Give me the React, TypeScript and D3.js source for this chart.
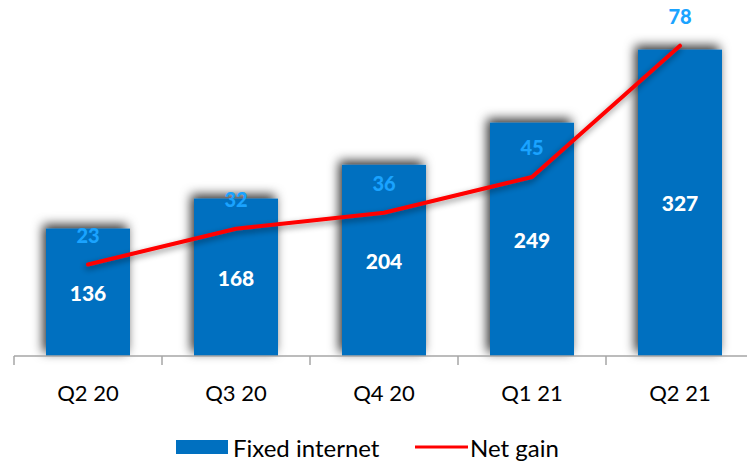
import React from "react";
import * as d3 from "d3";

const categories = ["Q2 20", "Q3 20", "Q4 20", "Q1 21", "Q2 21"];
const fixedInternet = [136, 168, 204, 249, 327];
const netGain = [23, 32, 36, 45, 78];

const W = 747;
const H = 462;
const baseY = 356;
const left = 14;
const right = 754;

export default function App() {
  const bandX = d3.scaleBand<string>().domain(categories).range([left, right]);
  const step = bandX.step();
  const yBar = d3.scaleLinear().domain([0, 380]).range([baseY, 0]);
  const yLine = d3.scaleLinear().domain([0, 89.5]).range([baseY, 0]);
  const bw = 84;
  const cx = (c: string) => (bandX(c) as number) + step / 2;
  const lineGen = d3
    .line<number>()
    .x((_, i) => cx(categories[i]))
    .y((d) => yLine(d));
  const font = "Lato, 'Open Sans', sans-serif";
  return (
    <svg width={W} height={H} style={{ position: "absolute", left: 0, top: 0 }}>
      <defs>
        <filter id="sh" x="-40%" y="-40%" width="180%" height="180%">
          <feDropShadow dx={-3} dy={-4} stdDeviation={5.5} floodColor="#000" floodOpacity={0.8} />
        </filter>
        <filter id="lsh" x="-10%" y="-30%" width="120%" height="160%">
          <feDropShadow dx={-1} dy={3} stdDeviation={3} floodColor="#000" floodOpacity={0.45} />
        </filter>
      </defs>
      {categories.map((c, i) => (
        <rect
          key={c}
          x={cx(c) - bw / 2}
          y={yBar(fixedInternet[i])}
          width={bw}
          height={baseY - yBar(fixedInternet[i])}
          fill="#0070C0"
          filter="url(#sh)"
        />
      ))}
      <line x1={left} x2={right} y1={baseY} y2={baseY} stroke="#A6A6A6" strokeWidth={1.5} />
      {d3.range(categories.length + 1).map((i) => (
        <line key={i} x1={left + i * step} x2={left + i * step} y1={baseY} y2={baseY + 9} stroke="#A6A6A6" strokeWidth={1.5} />
      ))}
      {categories.map((c) => (
        <text key={c} x={cx(c)} y={392} textAnchor="middle" dominantBaseline="central" fontFamily={font} fontSize={22} fill="#000">
          {c}
        </text>
      ))}
      {categories.map((c, i) => (
        <text
          key={c}
          x={cx(c)}
          y={(yBar(fixedInternet[i]) + baseY) / 2}
          textAnchor="middle"
          dominantBaseline="central"
          fontFamily={font}
          fontWeight={900}
          fontSize={21}
          fill="#fff"
        >
          {fixedInternet[i]}
        </text>
      ))}
      <path
        d={lineGen(netGain) || ""}
        fill="none"
        stroke="#FF0000"
        strokeWidth={4}
        strokeLinejoin="round"
        strokeLinecap="round"
        filter="url(#lsh)"
      />
      {categories.map((c, i) => (
        <text
          key={c}
          x={cx(c)}
          y={yLine(netGain[i]) - 30}
          textAnchor="middle"
          dominantBaseline="central"
          fontFamily={font}
          fontWeight={900}
          fontSize={20}
          fill="#1AA3FF"
        >
          {netGain[i]}
        </text>
      ))}
      <rect x={176} y={440} width={52} height={14} fill="#0070C0" />
      <text x={233} y={447} dominantBaseline="central" fontFamily={font} fontSize={24} fill="#000">
        Fixed internet
      </text>
      <line x1={415} x2={468} y1={447} y2={447} stroke="#FF0000" strokeWidth={3} />
      <text x={470} y={447} dominantBaseline="central" fontFamily={font} fontSize={24} fill="#000">
        Net gain
      </text>
    </svg>
  );
}
